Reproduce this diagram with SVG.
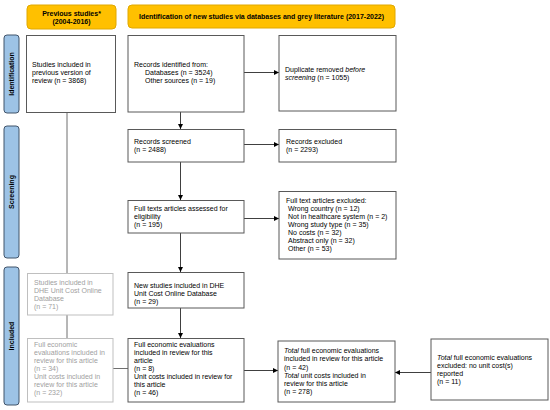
<svg xmlns="http://www.w3.org/2000/svg" width="550" height="410" viewBox="0 0 550 410">
<style>
text{font-family:"Liberation Sans",Arial,sans-serif;font-size:7px;fill:#000}
.hd{font-weight:bold;text-anchor:middle}
.side{font-weight:bold;text-anchor:middle}
.box{fill:#fff;stroke:#595959;stroke-width:1}
.gbox{fill:#fff;stroke:#bfbfbf;stroke-width:1}
.gt{fill:#a0a0a0}
.hdr{fill:#ffc000;stroke:#e0a800;stroke-width:1}
.bar{fill:#9dc3e6;stroke:#41546b;stroke-width:1}
.ln{stroke:#404040;stroke-width:1;fill:none}
.gl{stroke:#6f6f6f;stroke-width:1;fill:none}
</style>
<defs>
<marker id="ah" viewBox="0 0 10 10" refX="10" refY="5" markerWidth="5" markerHeight="5" orient="auto" markerUnits="userSpaceOnUse">
<path d="M0,0 L10,5 L0,10 z" fill="#000"/>
</marker>
</defs>
<rect width="550" height="410" fill="#fff"/>

<g id="header-previous">
<rect class="hdr" x="27" y="5" width="89" height="24" rx="4"/>
<text class="hd" x="71.5" y="15.5">Previous studies*</text>
<text class="hd" x="71.5" y="24">(2004-2016)</text>
</g>
<g id="header-new">
<rect class="hdr" x="128" y="5" width="267" height="23" rx="4"/>
<text class="hd" x="261.5" y="18.5">Identification of new studies via databases and grey literature (2017-2022)</text>
</g>

<g id="bar-identification">
<rect class="bar" x="4" y="35" width="15" height="78" rx="3"/>
<text class="side" transform="translate(14,74) rotate(-90)">Identification</text>
</g>
<g id="bar-screening">
<rect class="bar" x="4" y="126" width="15" height="132" rx="3"/>
<text class="side" transform="translate(14,192) rotate(-90)">Screening</text>
</g>
<g id="bar-included">
<rect class="bar" x="4" y="267" width="15" height="138" rx="3"/>
<text class="side" transform="translate(14,336) rotate(-90)">Included</text>
</g>

<g id="connectors">
<line class="ln" x1="244" y1="72.5" x2="279" y2="72.5" marker-end="url(#ah)"/>
<line class="ln" x1="180.5" y1="112" x2="180.5" y2="129" marker-end="url(#ah)"/>
<line class="ln" x1="244" y1="144.5" x2="279" y2="144.5" marker-end="url(#ah)"/>
<line class="ln" x1="180.5" y1="162" x2="180.5" y2="200" marker-end="url(#ah)"/>
<line class="ln" x1="244" y1="218.5" x2="279" y2="218.5" marker-end="url(#ah)"/>
<line class="ln" x1="180.5" y1="233" x2="180.5" y2="272" marker-end="url(#ah)"/>
<line class="ln" x1="180.5" y1="308" x2="180.5" y2="338" marker-end="url(#ah)"/>
<line class="ln" x1="244" y1="370.5" x2="278" y2="370.5" marker-end="url(#ah)"/>
<line class="ln" x1="431" y1="372.5" x2="395" y2="372.5" marker-end="url(#ah)"/>
<line class="gl" x1="67" y1="112" x2="67" y2="273"/>
<line class="gl" x1="67" y1="315" x2="67" y2="338"/>
<line class="gl" x1="113" y1="368.5" x2="128" y2="368.5"/>
</g>

<g id="node-previous-review">
<rect class="box" x="26.5" y="35.5" width="89" height="77"/>
<text x="32" y="66.5">Studies included in</text>
<text x="32" y="74.5">previous version of</text>
<text x="32" y="82.5">review (n = 3868)</text>
</g>
<g id="node-records-identified">
<rect class="box" x="128" y="35.5" width="116" height="76.5"/>
<text x="134" y="66.5">Records identified from:</text>
<text x="145" y="74.5">Databases (n = 3524)</text>
<text x="145" y="82.5">Other sources (n = 19)</text>
</g>
<g id="node-duplicates">
<rect class="box" x="279" y="35.5" width="117" height="75.5"/>
<text x="285" y="71.5">Duplicate removed <tspan font-style="italic">before</tspan></text>
<text x="285" y="79.5"><tspan font-style="italic">screening</tspan> (n = 1055)</text>
</g>
<g id="node-screened">
<rect class="box" x="128" y="129.5" width="116" height="32.5"/>
<text x="134" y="143.5">Records screened</text>
<text x="134" y="151.5">(n = 2488)</text>
</g>
<g id="node-records-excluded">
<rect class="box" x="279" y="129.5" width="117" height="32.5"/>
<text x="286" y="143.5">Records excluded</text>
<text x="286" y="151.5">(n = 2293)</text>
</g>
<g id="node-fulltext">
<rect class="box" x="128" y="200.5" width="116" height="32.5"/>
<text x="134" y="210.5">Full texts articles assessed for</text>
<text x="134" y="218.5">eligibility</text>
<text x="134" y="226.5">(n = 195)</text>
</g>
<g id="node-fulltext-excluded">
<rect class="box" x="279" y="191.5" width="117" height="67.5"/>
<text x="286" y="202.5">Full text articles excluded:</text>
<text x="288" y="210.5">Wrong country (n = 12)</text>
<text x="288" y="218.5">Not in healthcare system (n = 2)</text>
<text x="288" y="226.5">Wrong study type (n = 35)</text>
<text x="288" y="234.5">No costs (n = 32)</text>
<text x="288" y="242.5">Abstract only (n = 32)</text>
<text x="288" y="250.5">Other (n = 53)</text>
</g>
<g id="node-dhe-previous">
<rect class="gbox" x="27.5" y="273.5" width="85.5" height="41.5"/>
<text class="gt" x="34" y="284.5">Studies included in</text>
<text class="gt" x="34" y="292.5">DHE Unit Cost Online</text>
<text class="gt" x="34" y="300.5">Database</text>
<text class="gt" x="34" y="308.5">(n = 71)</text>
</g>
<g id="node-new-dhe">
<rect class="box" x="128" y="272.5" width="116" height="35.5"/>
<text x="134" y="288">New studies included in DHE</text>
<text x="134" y="296">Unit Cost Online Database</text>
<text x="134" y="304">(n = 29)</text>
</g>
<g id="node-previous-included">
<rect class="gbox" x="27.5" y="338.5" width="85.5" height="63.5"/>
<text class="gt" x="34" y="346.5">Full economic</text>
<text class="gt" x="34" y="354.5">evaluations included in</text>
<text class="gt" x="34" y="362.5">review for this article</text>
<text class="gt" x="34" y="370.5">(n = 34)</text>
<text class="gt" x="34" y="379">Unit costs included in</text>
<text class="gt" x="34" y="387">review for this article</text>
<text class="gt" x="34" y="395">(n = 232)</text>
</g>
<g id="node-new-included">
<rect class="box" x="128" y="338.5" width="116" height="63.5"/>
<text x="134" y="346.5">Full economic evaluations</text>
<text x="134" y="354.5">included in review for this</text>
<text x="134" y="362.5">article</text>
<text x="134" y="370.5">(n = 8)</text>
<text x="134" y="379">Unit costs included in review for</text>
<text x="134" y="387">this article</text>
<text x="134" y="395">(n = 46)</text>
</g>
<g id="node-total">
<rect class="box" x="278" y="341" width="117" height="61"/>
<text x="284" y="352.5"><tspan font-style="italic">Total</tspan> full economic evaluations</text>
<text x="284" y="361">included in review for this article</text>
<text x="284" y="369.5">(n = 42)</text>
<text x="284" y="377.5"><tspan font-style="italic">Total</tspan> unit costs included in</text>
<text x="284" y="385.5">review for this article</text>
<text x="284" y="393.5">(n = 278)</text>
</g>
<g id="node-total-excluded">
<rect class="box" x="431" y="339" width="117" height="61"/>
<text x="437" y="359.5"><tspan font-style="italic">Total</tspan> full economic evaluations</text>
<text x="437" y="368">excluded: no unit cost(s)</text>
<text x="437" y="376">reported</text>
<text x="437" y="384">(n = 11)</text>
</g>
</svg>
